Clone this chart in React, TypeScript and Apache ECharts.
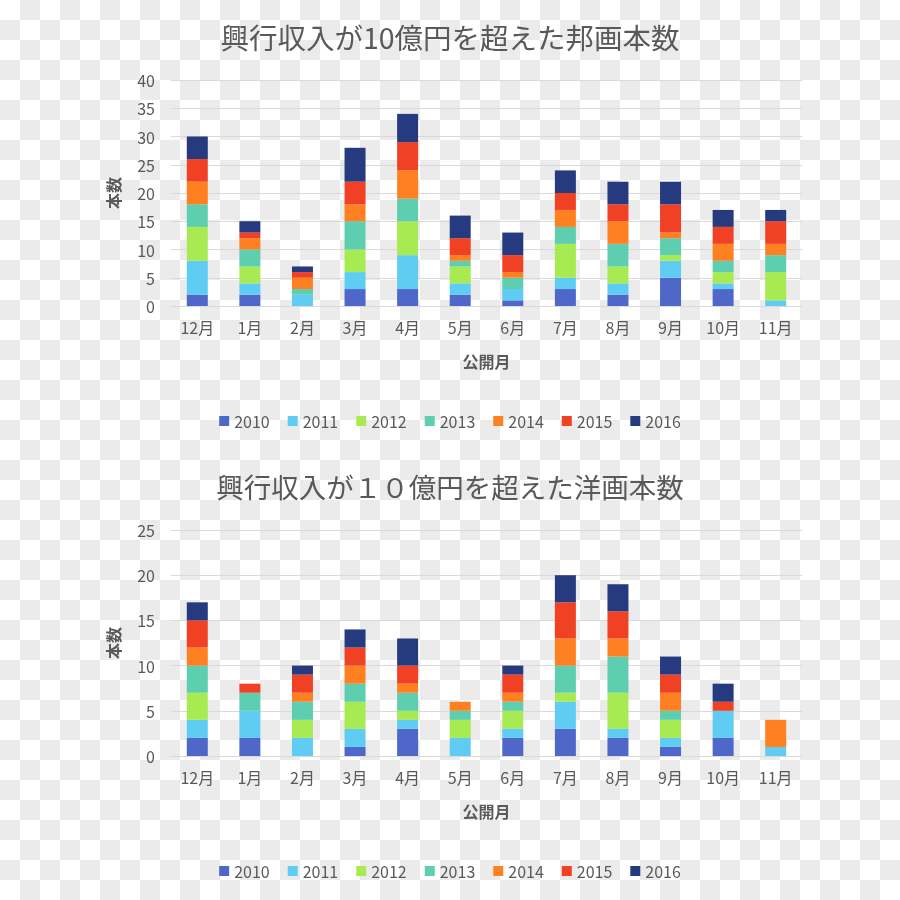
import React, { useEffect, useRef } from "react";
import * as echarts from "echarts";

const months = ["12月", "1月", "2月", "3月", "4月", "5月", "6月", "7月", "8月", "9月", "10月", "11月"];
const years = ["2010", "2011", "2012", "2013", "2014", "2015", "2016"];

// 邦画 (domestic films)
const jp2010 = [2, 2, 0, 3, 3, 2, 1, 3, 2, 5, 3, 0];
const jp2011 = [6, 2, 2, 3, 6, 2, 2, 2, 2, 3, 1, 1];
const jp2012 = [6, 3, 0, 4, 6, 3, 0, 6, 3, 1, 2, 5];
const jp2013 = [4, 3, 1, 5, 4, 1, 2, 3, 4, 3, 2, 3];
const jp2014 = [4, 2, 2, 3, 5, 1, 1, 3, 4, 1, 3, 2];
const jp2015 = [4, 1, 1, 4, 5, 3, 3, 3, 3, 5, 3, 4];
const jp2016 = [4, 2, 1, 6, 5, 4, 4, 4, 4, 4, 3, 2];

// 洋画 (foreign films)
const fg2010 = [2, 2, 0, 1, 3, 0, 2, 3, 2, 1, 2, 0];
const fg2011 = [2, 3, 2, 2, 1, 2, 1, 3, 1, 1, 3, 1];
const fg2012 = [3, 0, 2, 3, 1, 2, 2, 1, 4, 2, 0, 0];
const fg2013 = [3, 2, 2, 2, 2, 1, 1, 3, 4, 1, 0, 0];
const fg2014 = [2, 0, 1, 2, 1, 1, 1, 3, 2, 2, 0, 3];
const fg2015 = [3, 1, 2, 2, 2, 0, 2, 4, 3, 2, 1, 0];
const fg2016 = [2, 0, 1, 2, 3, 0, 1, 3, 3, 2, 2, 0];

const jpTitle = "興行収入が10億円を超えた邦画本数";
const fgTitle = "興行収入が１０億円を超えた洋画本数";
const xName = "公開月";
const yName = "本数";

const jpSeries = [jp2010, jp2011, jp2012, jp2013, jp2014, jp2015, jp2016];
const fgSeries = [fg2010, fg2011, fg2012, fg2013, fg2014, fg2015, fg2016];

const colors = ["#4E67C8", "#5ECCF3", "#A7EA52", "#5DCEAF", "#FF8021", "#F14124", "#263A7F"];
const FONT = "'Noto Sans CJK JP', 'Noto Sans', sans-serif";
const TXT = "#595959";
const GRID = "#d9d9d9";

export default function App() {
  const ref = useRef<HTMLDivElement>(null);
  useEffect(() => {
    if (!ref.current) return;
    const chart = echarts.init(ref.current, undefined, { renderer: "svg" });

    const xAxis = (gridIndex: number) => ({
      type: "category",
      gridIndex,
      data: months,
      axisTick: { show: false },
      axisLine: { lineStyle: { color: GRID, width: 1 } },
      axisLabel: { color: TXT, fontSize: 16, fontFamily: FONT, margin: 13 },
      name: xName,
      nameLocation: "middle",
      nameGap: 47,
      nameTextStyle: { color: TXT, fontSize: 16, fontWeight: "bold", fontFamily: FONT },
    });
    const yAxis = (gridIndex: number, max: number) => ({
      type: "value",
      gridIndex,
      min: 0,
      max,
      interval: 5,
      axisLine: { show: false },
      axisTick: { show: false },
      splitLine: { lineStyle: { color: GRID, width: 1 } },
      axisLabel: { color: TXT, fontSize: 16, fontFamily: FONT, margin: 16 },
      name: yName,
      nameLocation: "middle",
      nameGap: 50,
      nameTextStyle: { color: TXT, fontSize: 16, fontWeight: "bold", fontFamily: FONT },
    });

    const mk = (arrs: number[][], idx: number, stack: string) =>
      arrs.map((d, i) => ({
        name: years[i],
        type: "bar",
        stack,
        xAxisIndex: idx,
        yAxisIndex: idx,
        barWidth: 21,
        data: d,
        itemStyle: { color: colors[i] },
      }));

    const legend = (top: number) => ({
      data: years,
      top,
      left: "center",
      itemWidth: 10,
      itemHeight: 10,
      itemGap: 18,
      icon: "rect",
      textStyle: { color: TXT, fontSize: 16, fontFamily: FONT },
    });

    chart.setOption({
      animation: false,
      color: colors,
      title: [
        {
          text: jpTitle,
          left: "center",
          top: 17,
          textStyle: { color: TXT, fontSize: 28.5, fontWeight: "normal", fontFamily: FONT },
        },
        {
          text: fgTitle,
          left: "center",
          top: 467,
          textStyle: { color: TXT, fontSize: 27.5, fontWeight: "normal", fontFamily: FONT },
        },
      ],
      legend: [legend(408), legend(858)],
      grid: [
        { left: 171, right: 98, top: 80, bottom: 594, containLabel: false },
        { left: 171, right: 98, top: 530, bottom: 144, containLabel: false },
      ],
      xAxis: [xAxis(0), xAxis(1)],
      yAxis: [yAxis(0, 40), yAxis(1, 25)],
      series: [...mk(jpSeries, 0, "jp"), ...mk(fgSeries, 1, "fg")],
    });
    return () => chart.dispose();
  }, []);

  return (
    <div
      style={{
        position: "fixed",
        left: 0,
        top: 0,
        width: 900,
        height: 900,
        background: "repeating-conic-gradient(#ebebeb 0% 25%, #ffffff 0% 50%) 0 0 / 40px 40px",
      }}
    >
      <div ref={ref} style={{ width: 900, height: 900 }} />
    </div>
  );
}
